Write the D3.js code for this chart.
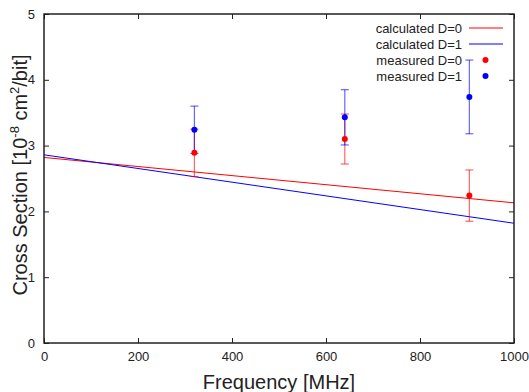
<!DOCTYPE html>
<html><head><meta charset="utf-8">
<script src="https://cdn.jsdelivr.net/npm/d3@7"></script>
<style>body{margin:0;background:#fff}svg{display:block;font-family:"Liberation Sans",Arial,sans-serif}</style>
</head><body><svg id="c" width="529" height="392"></svg>
<script>
const xTicks = [0,200,400,600,800,1000];
const yTicks = [0,1,2,3,4,5];
const calcFreq = [0,1000];
const calcD0 = [2.82,2.13];
const calcD1 = [2.86,1.82];
const measFreq = [320,640,905];
const measD0 = [2.89,3.10,2.24];
const errD0 = [0.36,0.38,0.39];
const measD1 = [3.24,3.43,3.74];
const errD1 = [0.36,0.42,0.56];
const legendLabels = ["calculated D=0","calculated D=1","measured D=0","measured D=1"];

const svg = d3.select("#c");
const L=44,R=514,T=14,B=343;
const x = d3.scaleLinear().domain([0,1000]).range([L,R]);
const y = d3.scaleLinear().domain([0,5]).range([B,T]);
const RED="#ff0000", BLUE="#0000ff";

svg.append("g").attr("transform",`translate(0,${B})`)
  .call(d3.axisBottom(x).tickValues(xTicks).tickSize(-5).tickPadding(9).tickFormat(d3.format("d")))
  .call(g=>{g.select(".domain").remove();g.selectAll("text").attr("font-size",13).attr("fill","#222");});
svg.append("g").attr("transform",`translate(0,${T})`)
  .call(d3.axisTop(x).tickValues(xTicks).tickSize(-5).tickFormat(""))
  .call(g=>g.select(".domain").remove());
svg.append("g").attr("transform",`translate(${L},0)`)
  .call(d3.axisLeft(y).tickValues(yTicks).tickSize(-5).tickPadding(9).tickFormat(d3.format("d")))
  .call(g=>{g.select(".domain").remove();g.selectAll("text").attr("font-size",13).attr("fill","#222");});
svg.append("g").attr("transform",`translate(${R},0)`)
  .call(d3.axisRight(y).tickValues(yTicks).tickSize(-5).tickFormat(""))
  .call(g=>g.select(".domain").remove());
svg.selectAll(".tick line").attr("stroke","#222");

const line = d3.line().x((d,i)=>x(calcFreq[i])).y(d=>y(d));
svg.append("path").datum(calcD0).attr("d",line).attr("fill","none").attr("stroke",RED).attr("stroke-width",1);
svg.append("path").datum(calcD1).attr("d",line).attr("fill","none").attr("stroke",BLUE).attr("stroke-width",1);

function errs(vals,errs,col){
  const g=svg.append("g").attr("stroke",col).attr("stroke-opacity",0.6).attr("stroke-width",1.2);
  vals.forEach((v,i)=>{
    const cx=x(measFreq[i]);
    g.append("line").attr("x1",cx).attr("x2",cx).attr("y1",y(v-errs[i])).attr("y2",y(v+errs[i]));
    [v-errs[i],v+errs[i]].forEach(e=>g.append("line").attr("x1",cx-4).attr("x2",cx+4).attr("y1",y(e)).attr("y2",y(e)));
  });
}
errs(measD0,errD0,RED);
errs(measD1,errD1,BLUE);
svg.append("g").selectAll("circle").data(measD0).join("circle")
  .attr("cx",(d,i)=>x(measFreq[i])).attr("cy",d=>y(d)).attr("r",3).attr("fill",RED);
svg.append("g").selectAll("circle").data(measD1).join("circle")
  .attr("cx",(d,i)=>x(measFreq[i])).attr("cy",d=>y(d)).attr("r",3).attr("fill",BLUE);

svg.append("rect").attr("x",L).attr("y",T).attr("width",R-L).attr("height",B-T)
  .attr("fill","none").attr("stroke","#222").attr("stroke-width",1.5);

const ly=[28,44,60,76];
const lc=[RED,BLUE,RED,BLUE];
legendLabels.forEach((t,i)=>{
  svg.append("text").attr("x",462).attr("y",ly[i]).attr("dy","0.35em").attr("text-anchor","end")
    .attr("font-size",13).attr("fill","#222").text(t);
  if(i<2) svg.append("line").attr("x1",469).attr("x2",503).attr("y1",ly[i]).attr("y2",ly[i]).attr("stroke",lc[i]).attr("stroke-width",1);
  else svg.append("circle").attr("cx",485.5).attr("cy",ly[i]).attr("r",3).attr("fill",lc[i]);
});

svg.append("text").attr("x",279).attr("y",389).attr("text-anchor","middle").attr("font-size",20).attr("fill","#222").text("Frequency [MHz]");
const yt=svg.append("text").attr("transform","translate(27,175) rotate(-90)").attr("text-anchor","middle").attr("font-size",20).attr("fill","#222");
yt.append("tspan").text("Cross Section [10");
yt.append("tspan").attr("dy",-8).attr("font-size",13).text("-8");
yt.append("tspan").attr("dy",8).text(" cm");
yt.append("tspan").attr("dy",-8).attr("font-size",13).text("2");
yt.append("tspan").attr("dy",8).text("/bit]");
</script></body></html>
